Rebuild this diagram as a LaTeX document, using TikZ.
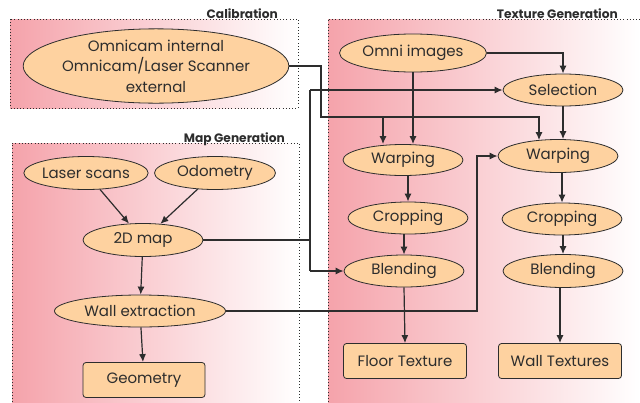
\documentclass[tikz,border=0pt]{standalone}
\usepackage{fontspec}
\setmainfont{Poppins}
\usetikzlibrary{shapes.geometric,arrows.meta,calc}
\definecolor{boxpink}{RGB}{245,163,171}
\definecolor{nodefill}{RGB}{254,210,160}
\definecolor{ink}{RGB}{45,45,45}
\tikzset{
  ell/.style={ellipse,draw=ink,line width=0.8pt,fill=nodefill,inner sep=0pt,text=ink,font=\fontsize{15}{20.5}\selectfont},
  rbox/.style={rectangle,rounded corners=3pt,draw=ink,line width=0.8pt,fill=nodefill,inner sep=0pt,text=ink,font=\fontsize{15}{20.5}\selectfont},
  arr/.style={draw=ink,line width=1.2pt,-{Latex[length=8pt,width=7pt]}},
  con/.style={draw=ink,line width=1.2pt},
  frame/.style={draw=ink,line width=0.9pt,dash pattern=on 0.9pt off 2.3pt},
  ttl/.style={text=ink,inner sep=0pt,anchor=base east,font=\fontsize{12.2}{14}\bfseries\selectfont}
}
\begin{document}
\begin{tikzpicture}[x=1pt,y=-1pt]
\useasboundingbox (0,0) rectangle (640,402);
% group frames
\shade[left color=boxpink,right color=white] (10,19) rectangle (298,108);
\draw[frame] (10,19) rectangle (298,108);
\node[ttl] (tcal) at (278,18) {Calibration};
\shade[left color=boxpink,right color=white] (12,143) rectangle (299,402);
\draw[frame] (12,402) -- (12,143) -- (299,143) -- (299,402);
\node[ttl] (tmap) at (285,142) {Map Generation};
\shade[left color=boxpink,right color=white] (328,19) rectangle (640,402);
\draw[frame] (328,402) -- (328,19) -- (640,19);
\node[ttl] (ttex) at (618,18) {Texture Generation};
% nodes
\node[ell,minimum width=259pt,minimum height=65pt,align=center] (omnicam) at (156,66) {Omnicam internal\\Omnicam/Laser Scanner\\external};
\node[ell,minimum width=121pt,minimum height=33pt] (laser) at (86,173) {Laser scans};
\node[ell,minimum width=121pt,minimum height=33pt] (odom) at (215,173) {Odometry};
\node[ell,minimum width=120pt,minimum height=33pt] (map2d) at (143,240) {2D map};
\node[ell,minimum width=171pt,minimum height=32pt] (wall) at (140,311) {Wall extraction};
\node[rbox,minimum width=122pt,minimum height=35pt] (geom) at (144,380) {Geometry};
\node[ell,minimum width=147pt,minimum height=38pt] (omni) at (413,53) {Omni images};
\node[ell,minimum width=120pt,minimum height=32pt] (sel) at (563,90) {Selection};
\node[ell,minimum width=120pt,minimum height=31pt] (warpL) at (403,160) {Warping};
\node[ell,minimum width=120pt,minimum height=33pt] (warpR) at (558,156) {Warping};
\node[ell,minimum width=120pt,minimum height=32pt] (cropL) at (408,218) {Cropping};
\node[ell,minimum width=120pt,minimum height=32pt] (cropR) at (562,219) {Cropping};
\node[ell,minimum width=120pt,minimum height=32pt] (blendL) at (404,271) {Blending};
\node[ell,minimum width=120pt,minimum height=33pt] (blendR) at (563,271) {Blending};
\node[rbox,minimum width=123pt,minimum height=35pt] (floor) at (405,361) {Floor Texture};
\node[rbox,minimum width=123pt,minimum height=35pt] (wallt) at (560,361) {Wall Textures};
% junction coordinates
\coordinate (jA) at (321,117);
\coordinate (jB) at (383,117);
\coordinate (jC) at (310,240);
\coordinate (jCt) at (310,90);
\coordinate (jCb) at (310,271);
\coordinate (jD) at (477,311);
% map generation
\draw[arr] (laser) -- (map2d);
\draw[arr] (odom) -- (map2d);
\draw[arr] (map2d) -- (wall);
\draw[arr] (wall) -- (geom);
% calibration to warpings
\draw[con] (omnicam.east) -| (jA) -- (jB);
\draw[arr] (jB) -- (jB |- warpL.north);
\draw[arr] (jB) -| ($(warpR.north)+(-19,1)$);
% 2D map to selection and blending
\draw[con] (map2d.east) -- (jC);
\draw[con] (jCt) -- (jCb);
\draw[arr] (jCt) -- (sel.west);
\draw[arr] (jCb) -- (blendL.west);
% wall extraction to warping right
\draw[arr] (wall.east) -- (jD) |- (warpR.west);
% texture generation
\draw[arr] (omni.east) -| (sel.north);
\draw[arr] (omni.south) -- (omni.south |- warpL.north);
\draw[arr] (sel.south) -- (sel.south |- warpR.north);
\draw[arr] (warpL.south -| cropL.north) -- (cropL.north);
\draw[arr] (cropL.south -| blendL.north) -- (blendL.north);
\draw[arr] (blendL.south) -- (floor.north);
\draw[arr] (warpR.south -| cropR.north) -- (cropR.north);
\draw[arr] (cropR.south -| blendR.north) -- (blendR.north);
\draw[arr] (blendR.south -| wallt.north) -- (wallt.north);
\end{tikzpicture}
\end{document}
